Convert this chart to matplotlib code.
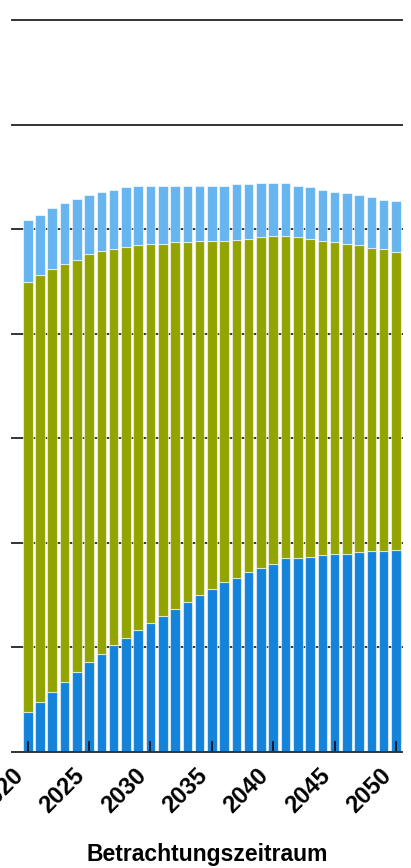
import matplotlib
matplotlib.use("Agg")
import matplotlib.pyplot as plt

years = list(range(2020, 2051))

# bar segments, bottom to top (gridline step = 10)
dark = [3.83, 4.78, 5.74, 6.67, 7.63, 8.58, 9.38, 10.18, 10.85, 11.65,
        12.32, 13.01, 13.68, 14.35, 15.02, 15.54, 16.24, 16.65, 17.2, 17.58,
        17.99, 18.54, 18.54, 18.66, 18.79, 18.95, 18.95, 19.08, 19.2, 19.2, 19.33]
olive = [41.12, 40.87, 40.46, 40.03, 39.47, 39.07, 38.52, 37.92, 37.45, 36.85,
         36.28, 35.59, 35.07, 34.4, 33.88, 33.36, 32.66, 32.35, 31.9, 31.67,
         31.41, 30.86, 30.71, 30.44, 30.11, 29.8, 29.65, 29.42, 29.0, 28.9, 28.47]
light = [5.95, 5.75, 5.8, 5.8, 5.8, 5.65, 5.7, 5.65, 5.7, 5.6,
         5.5, 5.5, 5.35, 5.35, 5.2, 5.2, 5.2, 5.3, 5.2, 5.15,
         5.0, 5.0, 4.85, 4.9, 4.85, 4.85, 4.9, 4.8, 4.9, 4.7, 4.9]

tick_years = [2020, 2025, 2030, 2035, 2040, 2045, 2050]
y_grid = [0, 10, 20, 30, 40, 50, 60, 70]

plt.rcParams['font.family'] = ['Liberation Sans', 'DejaVu Sans']

fig = plt.figure(figsize=(4.11, 8.68), dpi=100)
ax = fig.add_axes([12 / 411, 116.3 / 868, 390 / 411, 731.4 / 868])

for y in y_grid[1:]:
    ax.axhline(y, color='#333333', lw=1.4, zorder=0, clip_on=False)

bottom2 = [d + o for d, o in zip(dark, olive)]
edge = dict(edgecolor=(1, 1, 1, 0.6), linewidth=0.8, width=0.78, zorder=1)
ax.bar(years, dark, color='#1483DB', **edge)
ax.bar(years, olive, bottom=dark, color='#93A400', **edge)
ax.bar(years, light, bottom=bottom2, color='#66B5F0', **edge)

ax.set_xlim(2018.72, 2050.49)
ax.set_ylim(0, 70)

for s in ['left', 'right', 'top']:
    ax.spines[s].set_visible(False)
ax.spines['bottom'].set_color('#333333')
ax.spines['bottom'].set_linewidth(1.4)

ax.set_yticks([])
ax.set_xticks(tick_years)
ax.set_xticklabels([str(t) for t in tick_years], rotation=45, ha='right',
                   fontsize=17, fontweight='bold')
ax.tick_params(axis='x', direction='in', length=8, width=1.1, color='black', pad=9)

ax.set_xlabel('Betrachtungszeitraum', fontsize=16.5, fontweight='bold', labelpad=18)

fig.savefig('out.png', dpi=100)
